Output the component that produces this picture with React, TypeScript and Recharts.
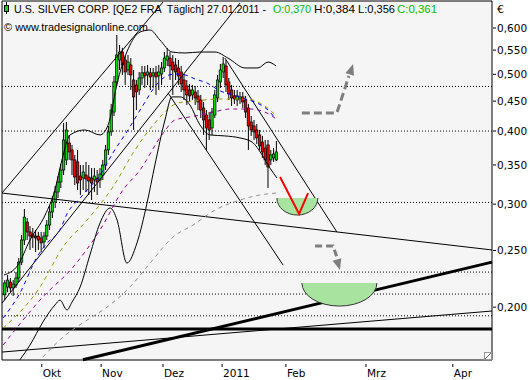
import React from 'react';
import {
  ComposedChart,
  Bar,
  Line,
  XAxis,
  YAxis,
  ReferenceLine,
  ReferenceDot,
  ReferenceArea,
  CartesianGrid,
} from 'recharts';

// ---- price scale (log) ----
const yMin = 0.16245;
const yMax = 0.6673;
const xMin = 0;
const xMax = 175;

// ---- x axis: trading-day index, month ticks ----
const monthTicks = [14.2, 35.4, 57.5, 78.6, 101.4, 130, 161];
const monthLabels = ['Okt', 'Nov', 'Dez', '2011', 'Feb', 'Mrz', 'Apr'];
const priceTicks = [0.2, 0.25, 0.3, 0.35, 0.4, 0.45, 0.5, 0.55, 0.6];

// ---- candles (index 1..98) ----
const opens = [
  0.21, 0.2165, 0.2208, 0.2157, 0.2182, 0.2243, 0.2388, 0.2605, 0.2796, 0.2689,
  0.2668, 0.2646, 0.2646, 0.2626, 0.2585, 0.2646, 0.2763, 0.2909, 0.3025, 0.3147,
  0.3273, 0.3431, 0.357, 0.3816, 0.3713, 0.357, 0.3542, 0.3351, 0.3325, 0.3364,
  0.3338, 0.3325, 0.3299, 0.3325, 0.3299, 0.3364, 0.3499, 0.3713, 0.3986, 0.4311,
  0.4852, 0.529, 0.5459, 0.529, 0.5087, 0.5188, 0.489, 0.4795, 0.4702, 0.4929,
  0.503, 0.4988, 0.503, 0.4969, 0.503, 0.4969, 0.5007, 0.5127, 0.529, 0.5331,
  0.5248, 0.5188, 0.5127, 0.5047, 0.489, 0.4776, 0.4702, 0.4611, 0.4665, 0.4593,
  0.452, 0.438, 0.4261, 0.4178, 0.4049, 0.4261, 0.4556, 0.4852, 0.5047, 0.5168,
  0.4852, 0.4702, 0.4593, 0.452, 0.4538, 0.4575, 0.452, 0.438, 0.4145, 0.4081,
  0.4017, 0.3939, 0.3831, 0.3742, 0.3787, 0.357, 0.3598, 0.357,
];
const highs = [
  0.2225, 0.227, 0.2243, 0.2225, 0.2297, 0.2427, 0.2657, 0.2943, 0.284, 0.2752,
  0.2731, 0.271, 0.2689, 0.2689, 0.2689, 0.2818, 0.2978, 0.3097, 0.3222, 0.3351,
  0.3513, 0.4129, 0.4145, 0.3939, 0.3787, 0.3641, 0.3713, 0.3499, 0.3499, 0.3542,
  0.3499, 0.3458, 0.3458, 0.3431, 0.3458, 0.357, 0.3787, 0.4081, 0.445, 0.4969,
  0.5838, 0.561, 0.555, 0.5395, 0.5395, 0.5331, 0.5087, 0.489, 0.5047, 0.5168,
  0.5168, 0.5188, 0.5127, 0.5127, 0.5168, 0.5188, 0.5248, 0.5459, 0.5546, 0.5459,
  0.5395, 0.5331, 0.529, 0.5168, 0.5007, 0.489, 0.4814, 0.4795, 0.4776, 0.4702,
  0.4611, 0.4485, 0.4345, 0.4311, 0.438, 0.4702, 0.4988, 0.5208, 0.5354, 0.529,
  0.4929, 0.4795, 0.4702, 0.4702, 0.4665, 0.4665, 0.4593, 0.445, 0.4244, 0.4178,
  0.4113, 0.4017, 0.3924, 0.3862, 0.3862, 0.3713, 0.3742, 0.3846,
];
const lows = [
  0.2056, 0.2122, 0.2122, 0.209, 0.2157, 0.2208, 0.236, 0.2555, 0.2605, 0.2505,
  0.2525, 0.2485, 0.2505, 0.2485, 0.2525, 0.2605, 0.271, 0.284, 0.2955, 0.3073,
  0.3197, 0.3364, 0.3499, 0.357, 0.3364, 0.3235, 0.3172, 0.311, 0.3172, 0.3147,
  0.311, 0.3049, 0.3147, 0.311, 0.3197, 0.3299, 0.3431, 0.3641, 0.3924, 0.4244,
  0.4776, 0.5087, 0.4988, 0.4795, 0.4988, 0.4702, 0.4017, 0.4345, 0.4611, 0.4795,
  0.4739, 0.4795, 0.4702, 0.4739, 0.4611, 0.4702, 0.4795, 0.5047, 0.5168, 0.489,
  0.4611, 0.489, 0.4795, 0.4665, 0.452, 0.4432, 0.4485, 0.452, 0.4432, 0.4345,
  0.4211, 0.3939, 0.3713, 0.3862, 0.3939, 0.4211, 0.4485, 0.4739, 0.4929, 0.4665,
  0.452, 0.4415, 0.445, 0.4415, 0.445, 0.438, 0.4211, 0.3713, 0.3924, 0.3862,
  0.3801, 0.3713, 0.3598, 0.3499, 0.3197, 0.3499, 0.3542, 0.3556,
];
const closes = [
  0.22, 0.2225, 0.2157, 0.219, 0.2243, 0.2388, 0.2605, 0.2851, 0.2689, 0.2646,
  0.2636, 0.2626, 0.2605, 0.2575, 0.2646, 0.2763, 0.2909, 0.3025, 0.3147, 0.3273,
  0.3431, 0.3862, 0.4017, 0.3684, 0.357, 0.3338, 0.326, 0.3299, 0.3404, 0.3312,
  0.3286, 0.326, 0.3351, 0.3273, 0.3377, 0.3499, 0.3713, 0.3986, 0.4345, 0.4852,
  0.5395, 0.5459, 0.5188, 0.5047, 0.5248, 0.4988, 0.4575, 0.4665, 0.4929, 0.503,
  0.4969, 0.5047, 0.4949, 0.503, 0.4949, 0.5047, 0.5127, 0.5331, 0.5374, 0.5168,
  0.5087, 0.5047, 0.4969, 0.4814, 0.4702, 0.4611, 0.4593, 0.4702, 0.4556, 0.4485,
  0.4345, 0.4178, 0.4049, 0.4017, 0.4311, 0.4611, 0.489, 0.5087, 0.5208, 0.4795,
  0.4629, 0.4556, 0.4538, 0.4593, 0.4575, 0.4485, 0.4311, 0.4081, 0.4017, 0.3986,
  0.3893, 0.3772, 0.3684, 0.357, 0.3472, 0.3641, 0.3655, 0.3684,
];

// ---- indicators: [dayIndex, price] ----
const upperBand: [number, number][] = [
  [0.7, 0.227], [5.7, 0.236], [10, 0.2605], [15.4, 0.2874], [18.9, 0.3172], [21.4, 0.357],
  [24.3, 0.3939], [29.6, 0.4017], [35, 0.3939], [37.9, 0.4097], [41.4, 0.489], [45.7, 0.5611],
  [49.3, 0.5906], [52.9, 0.5953], [56.4, 0.5724], [60.7, 0.5459], [65.4, 0.5438], [70.7, 0.5459],
  [76.1, 0.5459], [80.7, 0.5331], [86.8, 0.5127], [91.4, 0.5127], [95, 0.5248], [97.9, 0.5168],
];
const lowerBand: [number, number][] = [
  [6.4, 0.1626], [10, 0.1723], [14.6, 0.1886], [18.9, 0.2017], [20.7, 0.2056], [23.2, 0.1978],
  [25, 0.204], [27.9, 0.2165], [31.4, 0.2456], [35, 0.2785], [38.6, 0.2955], [41.1, 0.2818],
  [44.6, 0.2379], [48.2, 0.2575], [51.8, 0.3013], [54.6, 0.3499], [58.2, 0.4178], [60.7, 0.4575],
  [63.6, 0.4575], [67.1, 0.4432], [70.7, 0.4097], [74.3, 0.3939], [79.6, 0.3924], [85, 0.3893],
  [89.3, 0.3831], [92.9, 0.3641], [95.7, 0.3458], [98.2, 0.3325],
];
const blueMA: [number, number][] = [
  [0.4, 0.1916], [6.4, 0.2114], [12.5, 0.2436], [16.1, 0.2575], [20.7, 0.271], [23.2, 0.2886],
  [27.9, 0.3073], [31.4, 0.3209], [35, 0.3364], [39.6, 0.3669], [45, 0.4017], [50, 0.4397],
  [55.7, 0.4833], [58.2, 0.4949], [61.8, 0.5007], [65.4, 0.4988], [68.9, 0.491], [73.2, 0.4833],
  [77.9, 0.4684], [82.5, 0.4611], [86.8, 0.4538], [91.1, 0.4467], [95, 0.4345], [97.5, 0.4211],
];
const oliveMA: [number, number][] = [
  [0.4, 0.1842], [13.6, 0.2165], [21.8, 0.2535], [30.4, 0.2818], [39.6, 0.3209], [47.5, 0.3713],
  [54.6, 0.4129], [62.9, 0.4467], [68.9, 0.4502], [77.9, 0.4538], [86.8, 0.4538], [92.1, 0.4467],
  [95.7, 0.4345], [97.9, 0.4244],
];
const purpleMA: [number, number][] = [
  [0.4, 0.1723], [14.6, 0.2082], [25.4, 0.2342], [35, 0.271], [43.2, 0.3172], [49.3, 0.3431],
  [57.1, 0.3939], [61.8, 0.4178], [67.1, 0.4228], [74.3, 0.4295], [81.4, 0.4362], [88.6, 0.4362],
  [93.9, 0.4311], [97.9, 0.4195],
];
const grayMA: [number, number][] = [
  [14.6, 0.1643], [21.8, 0.1778], [30.4, 0.1901], [37.5, 0.2], [45.7, 0.2165], [52.9, 0.2379],
  [61.1, 0.2636], [68.2, 0.2763], [76.1, 0.2931], [85, 0.3049], [92.1, 0.311], [97.9, 0.3134],
];

// ---- drawings ----
const trendLines: [number, number][][] = [
  [[0, 0.3134], [57.5, 0.6646]],
  [[0, 0.2032], [85, 0.662]],
  [[59.3, 0.4647], [100.4, 0.236]],
  [[79.6, 0.5331], [119.6, 0.2689]],
  [[0, 0.3134], [175, 0.2505]],
  [[0, 0.1676], [175, 0.197]],
];
const thickTrend: [number, number][] = [[28.9, 0.1626], [175, 0.2388]];
const levelLines = [0.4767, 0.4, 0.302, 0.2296, 0.2106, 0.1933];
const baseLevel = 0.1835;
const redV: [number, number][] = [[99.3, 0.3338], [106.1, 0.2886], [109.3, 0.3134]];
const arrowUp: [number, number][] = [[107.1, 0.4295], [119.6, 0.4295], [123.9, 0.4969]];
const arrowUpHead: [number, number] = [125.4, 0.5208];
const arrowDown: [number, number][] = [[111.8, 0.2545], [118.2, 0.2545], [120, 0.2407]];
const arrowDownHead: [number, number] = [120.7, 0.2314];
const bowls: { at: [number, number]; rx: number; ry: number }[] = [
  { at: [105.5, 0.3073], rx: 20.5, ry: 17 },
  { at: [120.5, 0.2199], rx: 37.5, ry: 23 },
];

// ---- header texts ----
const titleParts: { text: string; x: number; len: number; color: string }[] = [
  { text: 'U.S. SILVER CORP. [QE2 FRA  Täglich] 27.01.2011 -', x: 14, len: 252, color: '#000' },
  { text: 'O:0,370', x: 273, len: 38, color: '#00c000' },
  { text: 'H:0,384', x: 314, len: 41, color: '#000' },
  { text: 'L:0,356', x: 358, len: 37, color: '#000' },
  { text: 'C:0,361', x: 397, len: 40, color: '#00c000' },
];

const FONT = 'DejaVu Sans';
const TITLE_FONT = 'Liberation Sans';
const pts = (a: [number, number][]) => a.map(([i, v]) => ({ i, v }));

const CandleShape = (props: any) => {
  const { x, y, width, height, payload } = props;
  if (!payload || height == null || isNaN(y)) return null;
  const { o, h, l, c } = payload;
  const lh = Math.log10(h);
  const ll = Math.log10(l);
  const py = (v: number) => y + (height * (lh - Math.log10(v))) / (lh - ll);
  const cx = x + width / 2;
  const up = c >= o;
  const top = py(Math.max(o, c));
  const bot = py(Math.min(o, c));
  return (
    <g>
      <line x1={cx} x2={cx} y1={y} y2={y + height} stroke="#000" strokeWidth={1} />
      <rect
        x={cx - 1.2}
        y={top}
        width={2.4}
        height={Math.max(bot - top, 1)}
        fill={up ? '#00dd00' : '#ee0000'}
        stroke="#000"
        strokeWidth={0.7}
      />
    </g>
  );
};

const XTick = (props: any) => {
  const { x, y, payload } = props;
  const k = monthTicks.indexOf(payload.value);
  return (
    <g>
      <line x1={x} x2={x} y1={y + 4} y2={y + 7} stroke="#000" />
      <text x={x + 1} y={y + 16.5} fontSize={10.5} fontFamily={FONT} fill="#000">
        {monthLabels[k]}
      </text>
    </g>
  );
};

const YTick = (props: any) => {
  const { x, y, payload } = props;
  const label = Number(payload.value).toFixed(3).replace('.', ',');
  return (
    <g>
      <line x1={x + 1} x2={x + 4} y1={y} y2={y} stroke="#000" />
      <text x={x + 5} y={y + 4} fontSize={10.5} fontFamily={FONT} fill="#000">
        {label}
      </text>
    </g>
  );
};

const bowlShape = (rx: number, ry: number) => (props: any) => {
  const { cx, cy } = props;
  if (cx == null || cy == null) return null;
  const d = `M ${cx - rx} ${cy} A ${rx} ${ry} 0 0 0 ${cx + rx} ${cy}`;
  return (
    <g>
      <path d={d + ' Z'} fill="#a8e4a0" stroke="none" />
      <path d={d} fill="none" stroke="#333" strokeWidth={1} />
    </g>
  );
};

const headShape = (angle: number) => (props: any) => {
  const { cx, cy } = props;
  if (cx == null || cy == null) return null;
  return (
    <polygon
      points={`${cx},${cy} ${cx - 4.5},${cy + 11} ${cx + 4.5},${cy + 11}`}
      fill="#7f7f7f"
      transform={`rotate(${angle} ${cx} ${cy})`}
    />
  );
};

export default function App() {
  const candles = opens.map((o, k) => ({ i: k + 1, o, h: highs[k], l: lows[k], c: closes[k] }));
  const lineProps = {
    dataKey: 'v',
    dot: false,
    activeDot: false,
    isAnimationActive: false,
    legendType: 'none' as const,
  };
  return (
    <div style={{ position: 'absolute', left: 0, top: 0, width: 530, height: 380, background: '#fff' }}>
      <ComposedChart width={530} height={380} data={candles} margin={{ top: 1, right: 0, bottom: 0, left: 2 }}>
        <CartesianGrid horizontal={false} vertical={false} fill="#f5f5f5" />
        <XAxis
          type="number"
          dataKey="i"
          domain={[xMin, xMax]}
          ticks={monthTicks}
          interval={0}
          allowDataOverflow
          axisLine={false}
          tickLine={false}
          tickSize={0}
          tickMargin={0}
          height={20}
          tick={(p: any) => <XTick {...p} />}
        />
        <YAxis
          orientation="right"
          type="number"
          scale="log"
          domain={[yMin, yMax]}
          ticks={priceTicks}
          interval={0}
          allowDataOverflow
          axisLine={false}
          tickLine={false}
          tickSize={0}
          tickMargin={0}
          width={38}
          tick={(p: any) => <YTick {...p} />}
        />
        {levelLines.map((v, k) => (
          <ReferenceLine key={'lv' + k} y={v} stroke="#000" strokeDasharray="1 2" strokeWidth={1} ifOverflow="visible" />
        ))}
        <ReferenceLine y={baseLevel} stroke="#000" strokeWidth={3} ifOverflow="visible" />
        {trendLines.map((s, k) => (
          <ReferenceLine
            key={'tl' + k}
            segment={[{ x: s[0][0], y: s[0][1] }, { x: s[1][0], y: s[1][1] }]}
            stroke="#000"
            strokeWidth={1}
            ifOverflow="visible"
          />
        ))}
        <ReferenceLine
          segment={[{ x: thickTrend[0][0], y: thickTrend[0][1] }, { x: thickTrend[1][0], y: thickTrend[1][1] }]}
          stroke="#000"
          strokeWidth={3}
          ifOverflow="visible"
        />
        <Line data={pts(grayMA)} type="monotone" stroke="#909090" strokeWidth={1} strokeDasharray="4 4" {...lineProps} />
        <Line data={pts(purpleMA)} type="monotone" stroke="#990099" strokeWidth={1} strokeDasharray="4 4" {...lineProps} />
        <Line data={pts(oliveMA)} type="monotone" stroke="#999900" strokeWidth={1} strokeDasharray="4 4" {...lineProps} />
        <Line data={pts(blueMA)} type="monotone" stroke="#0000ff" strokeWidth={1} strokeDasharray="4 4" {...lineProps} />
        <Line data={pts(upperBand)} type="monotone" stroke="#000" strokeWidth={1} {...lineProps} />
        <Line data={pts(lowerBand)} type="monotone" stroke="#000" strokeWidth={1} {...lineProps} />
        <Bar dataKey={(d: any) => [d.l, d.h]} barSize={3} shape={CandleShape} isAnimationActive={false} legendType="none" />
        {bowls.map((b, k) => (
          <ReferenceDot
            key={'bw' + k}
            x={b.at[0]}
            y={b.at[1]}
            r={1}
            ifOverflow="visible"
            shape={bowlShape(b.rx, b.ry)}
            zIndex={1000}
          />
        ))}
        <Line data={pts(redV)} type="linear" stroke="#ff0000" strokeWidth={2} zIndex={1100} {...lineProps} />
        <Line data={pts(arrowUp)} type="linear" stroke="#7f7f7f" strokeWidth={3} strokeDasharray="8 4" zIndex={1100} {...lineProps} />
        <Line data={pts(arrowDown)} type="linear" stroke="#7f7f7f" strokeWidth={3} strokeDasharray="7 4" zIndex={1100} {...lineProps} />
        <ReferenceDot x={arrowUpHead[0]} y={arrowUpHead[1]} r={1} ifOverflow="visible" shape={headShape(18)} zIndex={1200} />
        <ReferenceDot x={arrowDownHead[0]} y={arrowDownHead[1]} r={1} ifOverflow="visible" shape={headShape(164)} zIndex={1200} />
        <ReferenceArea x1={xMin} x2={xMax} y1={yMin} y2={yMax} fill="none" stroke="#000" strokeWidth={1} ifOverflow="visible" zIndex={1300} />
      </ComposedChart>
      <svg width={530} height={380} style={{ position: 'absolute', left: 0, top: 0, pointerEvents: 'none' }}>
        <line x1={6.5} x2={6.5} y1={2} y2={14} stroke="#000" />
        <rect x={4.5} y={5.5} width={4} height={6} fill="#00dd00" stroke="#000" />
        {titleParts.map((p, k) => (
          <text
            key={'tp' + k}
            x={p.x}
            y={12.5}
            fontSize={10.5}
            fontFamily={TITLE_FONT}
            textLength={p.len}
            lengthAdjust="spacingAndGlyphs"
            fill={p.color}
            style={{ whiteSpace: 'pre' }}
          >
            {p.text}
          </text>
        ))}
        <text x={4} y={30.5} fontSize={11} fontFamily={TITLE_FONT} textLength={144} lengthAdjust="spacingAndGlyphs" fill="#000">
          {'© www.tradesignalonline.com'}
        </text>
        <text x={497} y={13} fontSize={11} fontFamily={FONT} fill="#000">
          €
        </text>
        <rect x={484.5} y={352.5} width={7} height={7} fill="#fff" stroke="#999" />
        <line x1={485} y1={359} x2={491} y2={353} stroke="#666" />
      </svg>
    </div>
  );
}
